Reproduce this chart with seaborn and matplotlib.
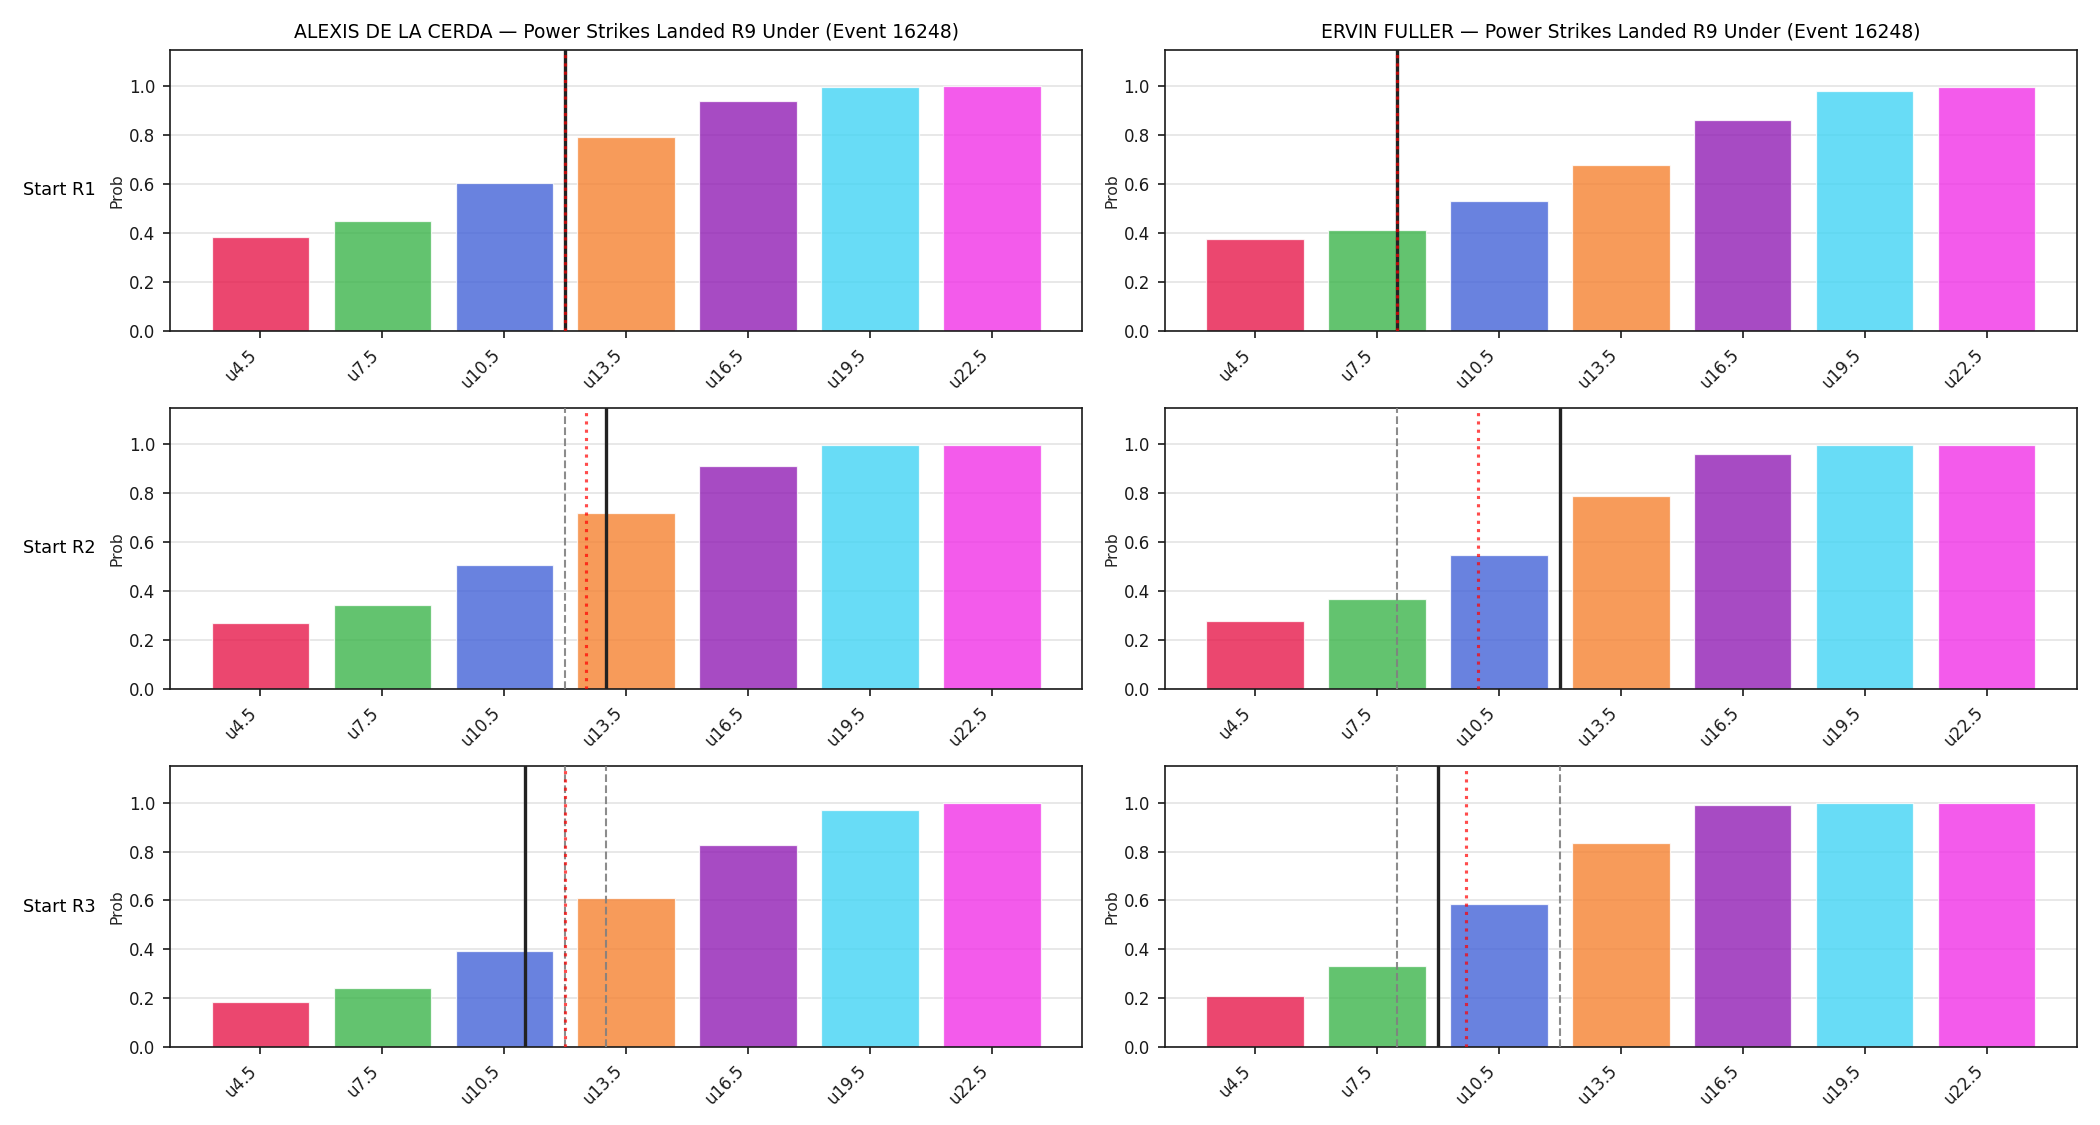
"""Power strikes landed R9 under-probabilities by starting round."""

import matplotlib

matplotlib.use("Agg")
import matplotlib.pyplot as plt
import pandas as pd
import seaborn as sns

sns.set_style("ticks", {"axes.edgecolor": "0.1", "xtick.color": "0.1", "ytick.color": "0.1", "text.color": "0.0"})

EVENT_ID = 16248
FIGHTERS = ["ALEXIS DE LA CERDA", "ERVIN FULLER"]
ROUNDS = ["Start R1", "Start R2", "Start R3"]
LINES = [4.5, 7.5, 10.5, 13.5, 16.5, 19.5, 22.5]
LABELS = [f"u{v}" for v in LINES]
PALETTE = ["#e6194b", "#3cb44b", "#4363d8", "#f58231", "#911eb4", "#42d4f4", "#f032e6"]

# under-probabilities, one row per starting round
DLC_PROBS = [
    [0.386, 0.451, 0.603, 0.793, 0.941, 0.998, 0.999],
    [0.269, 0.343, 0.508, 0.721, 0.910, 0.997, 0.998],
    [0.186, 0.243, 0.395, 0.612, 0.825, 0.969, 0.998],
]
FULLER_PROBS = [
    [0.375, 0.414, 0.531, 0.679, 0.863, 0.982, 0.998],
    [0.279, 0.368, 0.549, 0.791, 0.959, 0.997, 0.998],
    [0.210, 0.333, 0.587, 0.833, 0.989, 0.998, 0.999],
]
# projected median (solid) and mean (dotted) strikes per starting round
DLC_MEDIAN = [12.0, 13.0, 11.0]
DLC_MEAN = [12.0, 12.5, 12.0]
FULLER_MEDIAN = [8.0, 12.0, 9.0]
FULLER_MEAN = [8.0, 10.0, 9.7]


def to_pos(value: float) -> float:
    # map a strike count onto the categorical bar axis
    step = LINES[1] - LINES[0]
    return (value - LINES[0]) / step


def draw_panel(ax, probs, medians, means, r):
    df = pd.DataFrame({"line": LABELS, "prob": probs})
    sns.barplot(
        data=df,
        x="line",
        y="prob",
        hue="line",
        palette=PALETTE,
        saturation=1,
        alpha=0.8,
        edgecolor="white",
        linewidth=0.6,
        legend=False,
        ax=ax,
        zorder=2,
    )
    for prev in medians[:r]:
        ax.axvline(to_pos(prev), color="gray", linestyle="--", linewidth=1.0, alpha=0.9, zorder=3)
    ax.axvline(to_pos(medians[r]), color="#222222", linestyle="-", linewidth=1.6, zorder=4)
    ax.axvline(to_pos(means[r]), color="red", linestyle=":", linewidth=1.5, alpha=0.7, zorder=5)

    ax.set_xlim(-0.74, len(LABELS) - 0.26)
    ax.set_ylim(0, 1.15)
    ax.set_yticks([0.0, 0.2, 0.4, 0.6, 0.8, 1.0])
    ax.yaxis.grid(True, color="#dddddd", linewidth=0.8, alpha=0.8, zorder=0)
    ax.set_axisbelow(True)
    ax.set_xlabel("")
    ax.set_ylabel("Prob", fontsize=7.5, labelpad=2)
    ax.tick_params(axis="both", labelsize=8)
    plt.setp(ax.get_xticklabels(), rotation=45, ha="right")


def main() -> None:
    fig, axes = plt.subplots(3, 2, figsize=(14, 7.5), dpi=150)
    fig.subplots_adjust(left=0.081, right=0.989, top=0.956, bottom=0.069, wspace=0.09, hspace=0.272)

    data = [
        (FIGHTERS[0], DLC_PROBS, DLC_MEDIAN, DLC_MEAN),
        (FIGHTERS[1], FULLER_PROBS, FULLER_MEDIAN, FULLER_MEAN),
    ]
    for col, (name, probs, medians, means) in enumerate(data):
        for r in range(len(ROUNDS)):
            ax = axes[r, col]
            draw_panel(ax, probs[r], medians, means, r)
            if r == 0:
                ax.set_title(f"{name} — Power Strikes Landed R9 Under (Event {EVENT_ID})", fontsize=9)

    for r, label in enumerate(ROUNDS):
        pos = axes[r, 0].get_position()
        fig.text(0.011, (pos.y0 + pos.y1) / 2, label, fontsize=8.5, ha="left", va="center")

    fig.savefig("out.png", dpi=150)
    plt.close(fig)


if __name__ == "__main__":
    main()
